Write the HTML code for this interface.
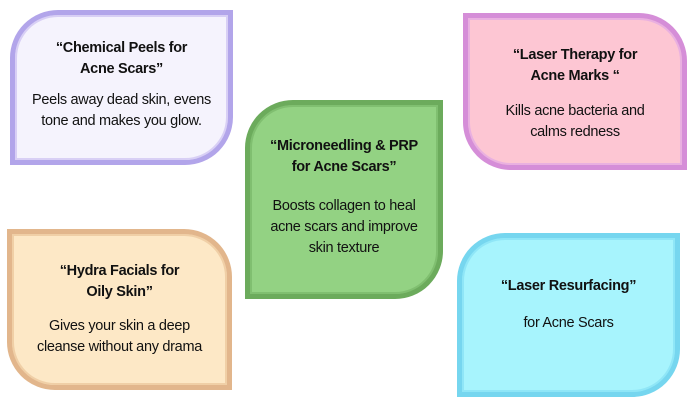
<!DOCTYPE html>
<html><head><style>
body{margin:0;width:700px;height:411px;background:#fff;position:relative;overflow:hidden;font-family:"Liberation Sans",sans-serif;color:#111}
.b{position:absolute;box-sizing:border-box;border:5px solid;}
.t{position:absolute;width:100%;text-align:center;left:0;font-size:14.5px;line-height:21px;letter-spacing:-0.3px}
.h{font-weight:bold}
</style></head><body>
<div class="b" style="left:10px;top:10px;width:223px;height:155px;background:#f5f3fd;border-color:#b2a5ea;border-radius:48px 0 48px 0;box-shadow:inset 0 0 0 2px #d8cff5">
 <div class="t h" style="top:23px">“Chemical Peels for<br>Acne Scars”</div>
 <div class="t" style="top:75px">Peels away dead skin, evens<br>tone and makes you glow.</div>
</div>
<div class="b" style="left:463px;top:13px;width:224px;height:157px;background:#fdc6d3;border-color:#d58ed8;border-radius:0 48px 0 48px;box-shadow:inset 0 0 0 2px #e9b0e0">
 <div class="t h" style="top:27px">“Laser Therapy for<br>Acne Marks “</div>
 <div class="t" style="top:83px">Kills acne bacteria and<br>calms redness</div>
</div>
<div class="b" style="left:245px;top:100px;width:198px;height:199px;background:#93d283;border-color:#6cab5c;border-radius:48px 0 48px 0;box-shadow:inset 0 0 0 2px #80bf70">
 <div class="t h" style="top:31px">“Microneedling &amp; PRP<br>for Acne Scars”</div>
 <div class="t" style="top:91px">Boosts collagen to heal<br>acne scars and improve<br>skin texture</div>
</div>
<div class="b" style="left:7px;top:229px;width:225px;height:161px;background:#fde8c6;border-color:#e2b68c;border-radius:0 48px 0 48px;box-shadow:inset 0 0 0 2px #f0cfa6">
 <div class="t h" style="top:27px">“Hydra Facials for<br>Oily Skin”</div>
 <div class="t" style="top:82px">Gives your skin a deep<br>cleanse without any drama</div>
</div>
<div class="b" style="left:457px;top:233px;width:223px;height:164px;background:#a7f4fd;border-color:#76d6ef;border-radius:48px 0 48px 0;box-shadow:inset 0 0 0 2px #8fe6f7">
 <div class="t h" style="top:38px">“Laser Resurfacing”</div>
 <div class="t" style="top:75px">for Acne Scars</div>
</div>
</body></html>
